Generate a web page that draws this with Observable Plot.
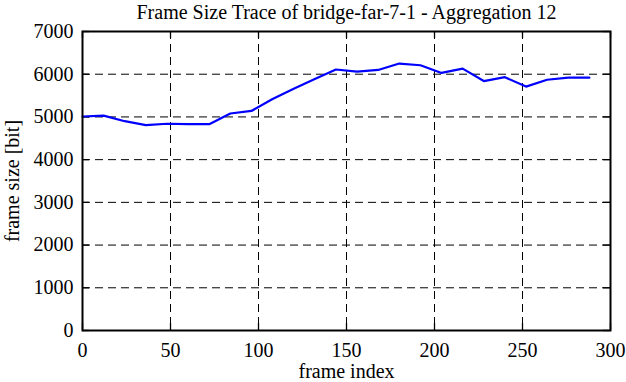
<!DOCTYPE html>
<html>
<head>
<meta charset="utf-8">
<script src="https://cdn.jsdelivr.net/npm/d3@7"></script>
<script src="https://cdn.jsdelivr.net/npm/@observablehq/plot@0.6"></script>
<style>
  html, body { margin: 0; padding: 0; background: #fff; }
  svg, svg text { font-variant: normal !important; font-variant-numeric: normal !important; }
</style>
</head>
<body>
<div id="chart"></div>
<script>
const titleText = "Frame Size Trace of bridge-far-7-1 - Aggregation 12";
const xLabel = "frame index";
const yLabel = "frame size [bit]";
const frameIndex = [0, 12, 24, 36, 48, 60, 72, 84, 96, 108, 120, 132, 144, 156, 168, 180, 192, 204, 216, 228, 240, 252, 264, 276, 288];
const frameSize = [5010, 5030, 4900, 4810, 4840, 4830, 4830, 5080, 5140, 5420, 5660, 5890, 6110, 6060, 6100, 6250, 6210, 6030, 6130, 5840, 5930, 5710, 5870, 5920, 5920];
const xTicks = [0, 50, 100, 150, 200, 250, 300];
const yTicks = [0, 1000, 2000, 3000, 4000, 5000, 6000, 7000];
const xGrid = [50, 100, 150, 200, 250];
const yGrid = [1000, 2000, 3000, 4000, 5000, 6000];

const data = frameIndex.map((x, i) => ({x, y: frameSize[i]}));

const W = 626, H = 382;
const mL = 82, mR = 16, mT = 31, mB = 52;
const fw = W - mL - mR, fh = H - mT - mB;
const tk = 7;
const serif = "Liberation Serif";

const chart = Plot.plot({
  width: W,
  height: H,
  marginLeft: mL,
  marginRight: mR,
  marginTop: mT,
  marginBottom: mB,
  style: {fontFamily: serif, fontSize: "20px", color: "#000", background: "#fff"},
  x: {domain: [0, 300], axis: null},
  y: {domain: [0, 7000], axis: null},
  marks: [
    Plot.ruleX(xGrid, {stroke: "#000", strokeWidth: 1, strokeDasharray: "8,5"}),
    Plot.ruleY(yGrid, {stroke: "#000", strokeWidth: 1, strokeDasharray: "8,5"}),
    Plot.ruleX(xTicks, {stroke: "#000", strokeWidth: 1.3, insetTop: fh - tk}),
    Plot.ruleX(xTicks, {stroke: "#000", strokeWidth: 1.3, insetBottom: fh - tk}),
    Plot.ruleY(yTicks, {stroke: "#000", strokeWidth: 1.3, insetRight: fw - tk}),
    Plot.ruleY(yTicks, {stroke: "#000", strokeWidth: 1.3, insetLeft: fw - tk}),
    Plot.line(data, {x: "x", y: "y", stroke: "#0000ff", strokeWidth: 2.2}),
    Plot.frame({stroke: "#000", strokeWidth: 2}),
    Plot.text(xTicks, {x: d => d, text: d => String(d), frameAnchor: "bottom", dy: 20, lineAnchor: "middle", textAnchor: "middle", fontSize: 20, fontFamily: serif, fontVariant: "normal", fill: "#000"}),
    Plot.text(yTicks, {y: d => d, text: d => String(d), frameAnchor: "left", dx: -9, lineAnchor: "middle", textAnchor: "end", fontSize: 20, fontFamily: serif, fontVariant: "normal", fill: "#000"}),
    Plot.text([titleText], {frameAnchor: "top", dy: -19, lineAnchor: "middle", fontSize: 20, fontFamily: serif, fill: "#000"}),
    Plot.text([xLabel], {frameAnchor: "bottom", dy: 41, lineAnchor: "middle", fontSize: 20, fontFamily: serif, fill: "#000"}),
    Plot.text([yLabel], {frameAnchor: "left", dx: -70, rotate: -90, lineAnchor: "middle", textAnchor: "middle", fontSize: 20, fontFamily: serif, fill: "#000"})
  ]
});
document.getElementById("chart").appendChild(chart);
</script>
</body>
</html>
